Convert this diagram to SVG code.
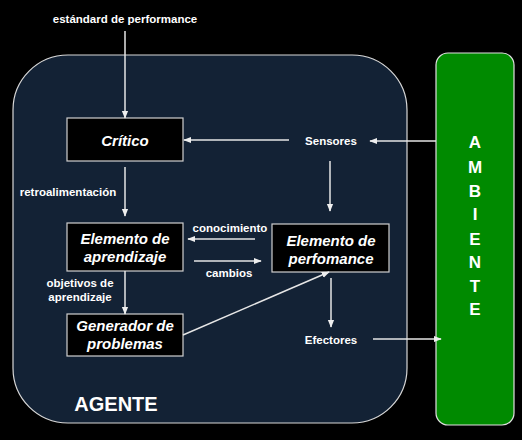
<svg xmlns="http://www.w3.org/2000/svg" width="522" height="440" viewBox="0 0 522 440">
<defs>
<marker id="ah" viewBox="0 0 10 10" refX="9" refY="5" markerWidth="8" markerHeight="8" markerUnits="userSpaceOnUse" orient="auto">
<path d="M0,1 L10,5 L0,9 Z" fill="#eeeeee"/>
</marker>
<style>
.lbl{font-family:"Liberation Sans",Arial,sans-serif;font-weight:bold;font-size:11.5px;fill:#ffffff;text-anchor:middle}
.box{fill:#000000;stroke:#d0d0d0;stroke-width:1.2}
.bt{font-family:"Liberation Sans",Arial,sans-serif;font-weight:bold;font-style:italic;font-size:15px;fill:#ffffff;text-anchor:middle}
.amb{font-family:"Liberation Sans",Arial,sans-serif;font-weight:bold;font-size:17px;fill:#ffffff;text-anchor:middle}
.c{stroke:#e6e6e6;stroke-width:1.5;fill:none;marker-end:url(#ah)}
</style>
</defs>
<rect width="522" height="440" fill="#000000"/>
<g id="agente">
<rect x="13" y="55" width="394" height="368" rx="55" ry="55" fill="#132235" stroke="#d8d8d8" stroke-width="1.2"/>
<text x="116" y="411" font-family="'Liberation Sans',Arial,sans-serif" font-weight="bold" font-size="20" fill="#ffffff" text-anchor="middle">AGENTE</text>
</g>
<g id="ambiente">
<rect x="436" y="53" width="78" height="372" rx="12" ry="12" fill="#008a00" stroke="#e0e0e0" stroke-width="1.2"/>
<text class="amb" x="475" y="148">A</text>
<text class="amb" x="475" y="173">M</text>
<text class="amb" x="475" y="197">B</text>
<text class="amb" x="475" y="220">I</text>
<text class="amb" x="475" y="245">E</text>
<text class="amb" x="475" y="268">N</text>
<text class="amb" x="475" y="292">T</text>
<text class="amb" x="475" y="315">E</text>
</g>
<g id="estandard">
<text class="lbl" x="125" y="23">estándard de performance</text>
</g>
<g id="critico">
<rect class="box" x="67" y="118" width="116" height="43"/>
<text class="bt" x="125" y="146">Crítico</text>
</g>
<g id="sensores">
<text class="lbl" x="331" y="145">Sensores</text>
</g>
<g id="aprendizaje">
<rect class="box" x="67" y="223" width="116" height="48"/>
<text class="bt" x="125" y="244">Elemento de</text>
<text class="bt" x="125" y="262">aprendizaje</text>
</g>
<g id="performance">
<rect class="box" x="272" y="224" width="117" height="48"/>
<text class="bt" x="331" y="246">Elemento de</text>
<text class="bt" x="331" y="264">perfomance</text>
</g>
<g id="generador">
<rect class="box" x="67" y="314" width="116" height="42"/>
<text class="bt" x="125" y="331">Generador de</text>
<text class="bt" x="125" y="349">problemas</text>
</g>
<g id="efectores">
<text class="lbl" x="331" y="344">Efectores</text>
</g>
<g id="connectors">
<line class="c" x1="125" y1="31" x2="125" y2="118"/>
<line class="c" x1="289" y1="140" x2="184" y2="140"/>
<line class="c" x1="436" y1="141" x2="370" y2="141"/>
<line class="c" x1="330" y1="161" x2="330" y2="211"/>
<line class="c" x1="125" y1="167" x2="125" y2="216"/>
<line class="c" x1="255" y1="239" x2="188" y2="239"/>
<line class="c" x1="194" y1="261" x2="261" y2="261"/>
<line class="c" x1="125" y1="271" x2="125" y2="314"/>
<line class="c" x1="183" y1="335" x2="329" y2="272"/>
<line class="c" x1="331" y1="278" x2="331" y2="327"/>
<line class="c" x1="373" y1="339" x2="441" y2="339"/>
<text class="lbl" x="68" y="196">retroalimentación</text>
<text class="lbl" x="230" y="232">conocimiento</text>
<text class="lbl" x="229" y="277">cambios</text>
<text class="lbl" x="80" y="287">objetivos de</text>
<text class="lbl" x="80" y="301">aprendizaje</text>
</g>
</svg>
